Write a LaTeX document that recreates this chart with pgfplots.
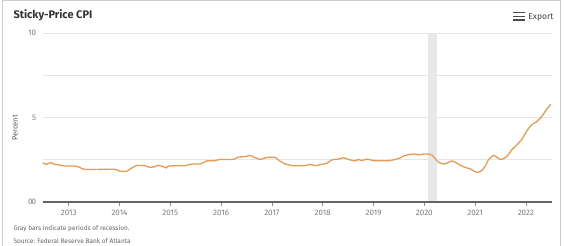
\documentclass[border=0pt]{standalone}
\usepackage{pgfplots}
\pgfplotsset{compat=1.18}
\usepackage{fontspec}
\setmainfont{Fira Sans}
\definecolor{lineor}{RGB}{232,155,85}
\definecolor{gridc}{RGB}{230,230,230}
\definecolor{tickc}{RGB}{125,125,125}
\definecolor{axc}{RGB}{100,100,100}
\definecolor{recc}{RGB}{232,232,232}
\definecolor{framec}{RGB}{205,205,205}
\begin{document}
\begin{tikzpicture}
\useasboundingbox (0pt,0pt) rectangle (565pt,246pt);
\fill[white] (0pt,0pt) rectangle (565pt,246pt);
\draw[framec,line width=0.8pt] (2pt,0pt) -- (2pt,245.5pt) -- (560pt,245.5pt) -- (560pt,0pt);
\node[anchor=west,font=\fontsize{11}{13}\selectfont\bfseries,text=black!80] at (10pt,231pt) {Sticky-Price CPI};
\node[anchor=east,font=\fontsize{8.5}{10}\selectfont,text=black!75] at (557pt,229pt) {Export};
\fill[black!70] (513pt,232.5pt) rectangle (525pt,234pt);
\fill[black!70] (513pt,228.8pt) rectangle (525pt,230.3pt);
\fill[black!70] (513pt,225.1pt) rectangle (525pt,226.6pt);
\node[anchor=west,font=\fontsize{6.5}{8}\selectfont,text=black!60] at (10pt,17pt) {Gray bars indicate periods of recession.};
\node[anchor=west,font=\fontsize{6.5}{8}\selectfont,text=black!60] at (10pt,5pt) {Source: Federal Reserve Bank of Atlanta};
\begin{axis}[
  at={(42.7pt,44pt)}, anchor=south west,
  scale only axis, width=509pt, height=169pt,
  xmin=2012.488, xmax=2022.508, ymin=0, ymax=10,
  axis line style={draw=none},
  xtick pos=bottom, ytick pos=left,
  xtick={2013,2014,2015,2016,2017,2018,2019,2020,2021,2022},
  xticklabels={2013,2014,2015,2016,2017,2018,2019,2020,2021,2022},
  xtick style={black!45, line width=0.6pt},
  xtick align=outside,
  major tick length=4pt,
  ytick={0,2.5,5,7.5,10},
  yticklabels={0,,5,,10},
  ymajorgrids, grid style={gridc, line width=0.8pt},
  ytick style={draw=none},
  tick label style={font=\fontsize{8}{9}\selectfont, text=tickc},
  xticklabel style={yshift=-1pt},
  yticklabel style={xshift=-3pt},
  /pgf/number format/assume math mode=true,
  clip=false,
]
\fill[recc] (axis cs:2020.08,0) rectangle (axis cs:2020.245,10);
\addplot[lineor, line width=1.3pt, smooth, tension=0.3, mark=none] coordinates {
(2012.49,2.31) (2012.56,2.23) (2012.65,2.33) (2012.72,2.23) (2012.82,2.19) (2012.92,2.13)
(2013.12,2.13) (2013.22,2.05) (2013.31,1.93) (2013.91,1.93) (2014.00,1.83) (2014.13,1.81)
(2014.23,1.99) (2014.33,2.15) (2014.50,2.15) (2014.59,2.05) (2014.69,2.09) (2014.76,2.17)
(2014.86,2.09) (2014.92,2.02) (2014.97,2.13) (2015.29,2.15) (2015.42,2.25) (2015.59,2.25)
(2015.72,2.43) (2015.88,2.45) (2015.98,2.52) (2016.24,2.52) (2016.34,2.66) (2016.47,2.68)
(2016.57,2.76) (2016.67,2.62) (2016.77,2.52) (2016.90,2.64) (2017.06,2.64) (2017.16,2.42)
(2017.26,2.25) (2017.42,2.15) (2017.65,2.15) (2017.75,2.23) (2017.85,2.15) (2017.98,2.23)
(2018.08,2.29) (2018.18,2.49) (2018.31,2.54) (2018.41,2.62) (2018.54,2.49) (2018.64,2.43)
(2018.70,2.52) (2018.77,2.45) (2018.87,2.54) (2019.00,2.45) (2019.33,2.45) (2019.42,2.52)
(2019.52,2.60) (2019.59,2.72) (2019.72,2.82) (2019.82,2.84) (2019.88,2.78) (2019.98,2.84)
(2020.08,2.84) (2020.15,2.78) (2020.21,2.58) (2020.28,2.35) (2020.37,2.25) (2020.44,2.29)
(2020.54,2.43) (2020.60,2.37) (2020.70,2.19) (2020.80,2.05) (2020.90,1.97) (2021.00,1.79)
(2021.06,1.76) (2021.13,1.86) (2021.20,2.12) (2021.26,2.49) (2021.33,2.70) (2021.37,2.76)
(2021.46,2.58) (2021.52,2.52) (2021.62,2.68) (2021.72,3.08) (2021.82,3.37) (2021.92,3.71)
(2022.02,4.22) (2022.11,4.56) (2022.21,4.75) (2022.31,5.05) (2022.41,5.49) (2022.49,5.78)
};
\end{axis}
\draw[axc, line width=2pt] (42.7pt,44pt) -- (551.7pt,44pt);
\node[anchor=east,font=\fontsize{8}{9}\selectfont,text=tickc] at (36pt,44pt) {0};
\node[rotate=90,font=\fontsize{7.5}{9}\selectfont,text=black!65] at (15pt,118pt) {Percent};
\end{tikzpicture}
\end{document}
